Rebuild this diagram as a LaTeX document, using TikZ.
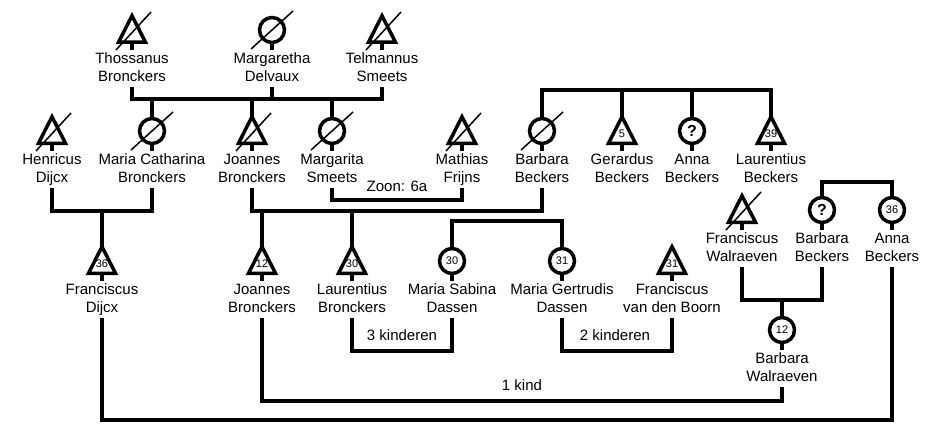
\documentclass[tikz,border=0pt]{standalone}
\usepackage{fontspec}
\setmainfont{Liberation Sans}
\newcommand\namefont{\fontsize{15}{18}\selectfont}
\newcommand\numfont{\fontsize{11}{12}\selectfont}
\newcommand\nm[2]{\strut #1\\\strut #2}
\newcommand\qm{{\fontsize{16}{16}\selectfont\bfseries ?}}
\tikzset{
  outl/.style={line width=3.5pt, line join=miter},
  conn/.style={line width=3.5pt, line join=miter},
  strike/.style={line width=1.5pt},
  symbox/.style={inner sep=0pt, outer sep=0pt},
  namelab/.style={anchor=north, align=center, inner sep=0pt, font=\namefont},
  numlab/.style={inner sep=0pt, font=\numfont},
  lbl/.style={inner sep=0pt, font=\namefont}
}
\newcommand\Male[5]{%
  \node[symbox, minimum width=27pt, minimum height=26.5pt] (#1) at (#2,#3-15) {};
  \draw[outl] (#1.north) -- (#1.south east) -- (#1.south west) -- cycle;
  \node[numlab] (#1n) at (#2,#3-11.5) {#4};
  \node[namelab] (#1t) at (#2,#3+6.4) {#5};
  \draw[outl] (#1.south) -- (#1t.north);
}
\newcommand\Female[5]{%
  \node[outl, circle, draw, minimum size=25pt, inner sep=0pt, font=\numfont] (#1) at (#2,#3-14) {#4};
  \node[namelab] (#1t) at (#2,#3+6.4) {#5};
  \draw[outl] (#1.south) -- (#1t.north);
}
\newcommand\deadM[1]{\draw[strike] ([shift={(-16,21)}]#1.center) -- ([shift={(19,-17)}]#1.center);}
\newcommand\deadF[1]{\draw[strike] ([shift={(-21,19)}]#1.center) -- ([shift={(21,-19)}]#1.center);}
\begin{document}
\begin{tikzpicture}[x=1pt,y=-1pt]
\useasboundingbox (0,0) rectangle (941,433);
% row 1
\Male{thos}{132}{44}{}{\nm{Thossanus}{Bronckers}}\deadM{thos}
\Female{marg}{272}{44}{}{\nm{Margaretha}{Delvaux}}\deadF{marg}
\Male{telm}{382}{44}{}{\nm{Telmannus}{Smeets}}\deadM{telm}
% row 2
\Male{henr}{52}{145}{}{\nm{Henricus}{Dijcx}}\deadM{henr}
\Female{mcat}{152}{145}{}{\nm{Maria Catharina}{Bronckers}}\deadF{mcat}
\Male{joaa}{252}{145}{}{\nm{Joannes}{Bronckers}}\deadM{joaa}
\Female{mrgt}{332}{145}{}{\nm{Margarita}{Smeets}}\deadF{mrgt}
\Male{math}{462}{145}{}{\nm{Mathias}{Frijns}}\deadM{math}
\Female{barba}{542}{145}{}{\nm{Barbara}{Beckers}}\deadF{barba}
\Male{gera}{622}{145}{5}{\nm{Gerardus}{Beckers}}
\Female{annaa}{692}{145}{\qm}{\nm{Anna}{Beckers}}
\Male{laura}{771}{145}{39}{\nm{Laurentius}{Beckers}}
% row 3
\Male{fdij}{102}{275}{36}{\nm{Franciscus}{Dijcx}}
\Male{joab}{262}{275}{12}{\nm{Joannes}{Bronckers}}
\Male{laurb}{352}{275}{30}{\nm{Laurentius}{Bronckers}}
\Female{msab}{452}{275}{30}{\nm{Maria Sabina}{Dassen}}
\Female{mger}{562}{275}{31}{\nm{Maria Gertrudis}{Dassen}}
\Male{fboo}{672}{275}{31}{\nm{Franciscus}{van den Boorn}}
% right group
\Male{fwal}{742}{224}{}{\nm{Franciscus}{Walraeven}}\deadM{fwal}
\Female{barbb}{822}{224}{\qm}{\nm{Barbara}{Beckers}}
\Female{annab}{892}{224}{36}{\nm{Anna}{Beckers}}
\Female{bwal}{782}{344}{12}{\nm{Barbara}{Walraeven}}
% bar levels
\coordinate (ba) at (0,99);
\coordinate (bb) at (0,90);
\coordinate (bz) at (0,200);
\coordinate (bc) at (0,211);
\coordinate (bd) at (0,221);
\coordinate (be) at (0,351);
\coordinate (bf) at (0,300);
\coordinate (bg) at (0,182);
\coordinate (bh) at (0,401);
\coordinate (bi) at (0,420);
% connectors
\draw[conn] (thost.south) -- (thost.south |- ba) -- (telmt.south |- ba) -- (telmt.south);
\draw[conn] (margt.south) -- (margt.south |- ba);
\foreach \p in {mcat,joaa,mrgt} \draw[conn] (\p.north) -- (\p.north |- ba);
\draw[conn] (barba.north) -- (barba.north |- bb) -- (laura.north |- bb) -- (laura.north);
\foreach \p in {gera,annaa} \draw[conn] (\p.north) -- (\p.north |- bb);
\draw[conn] (mrgtt.south) -- (mrgtt.south |- bz) -- (matht.south |- bz) -- (matht.south);
\node[lbl] (zoon) at (397,186) {Zoon: 6a};
\draw[conn] (henrt.south) -- (henrt.south |- bc) -- (mcatt.south |- bc) -- (mcatt.south);
\draw[conn] (fdij.north) -- (fdij.north |- bc);
\draw[conn] (joaat.south) -- (joaat.south |- bc) -- (barbat.south |- bc) -- (barbat.south);
\foreach \p in {joab,laurb} \draw[conn] (\p.north) -- (\p.north |- bc);
\draw[conn] (msab.north) -- (msab.north |- bd) -- (mger.north |- bd) -- (mger.north);
\draw[conn] (laurbt.south) -- (laurbt.south |- be) -- (msabt.south |- be) -- (msabt.south);
\node[lbl] (kdr) at (402,335) {3 kinderen};
\draw[conn] (mgert.south) -- (mgert.south |- be) -- (fboot.south |- be) -- (fboot.south);
\node[lbl] (kdt) at (615,335) {2 kinderen};
\draw[conn] (fwalt.south) -- (fwalt.south |- bf) -- (barbbt.south |- bf) -- (barbbt.south);
\draw[conn] (bwal.north) -- (bwal.north |- bf);
\draw[conn] (barbb.north) -- (barbb.north |- bg) -- (annab.north |- bg) -- (annab.north);
\draw[conn] (joabt.south) -- (joabt.south |- bh) -- (bwalt.south |- bh) -- (bwalt.south);
\node[lbl] (kde) at (522,385) {1 kind};
\draw[conn] (fdijt.south) -- (fdijt.south |- bi) -- (annabt.south |- bi) -- (annabt.south);
\end{tikzpicture}
\end{document}
